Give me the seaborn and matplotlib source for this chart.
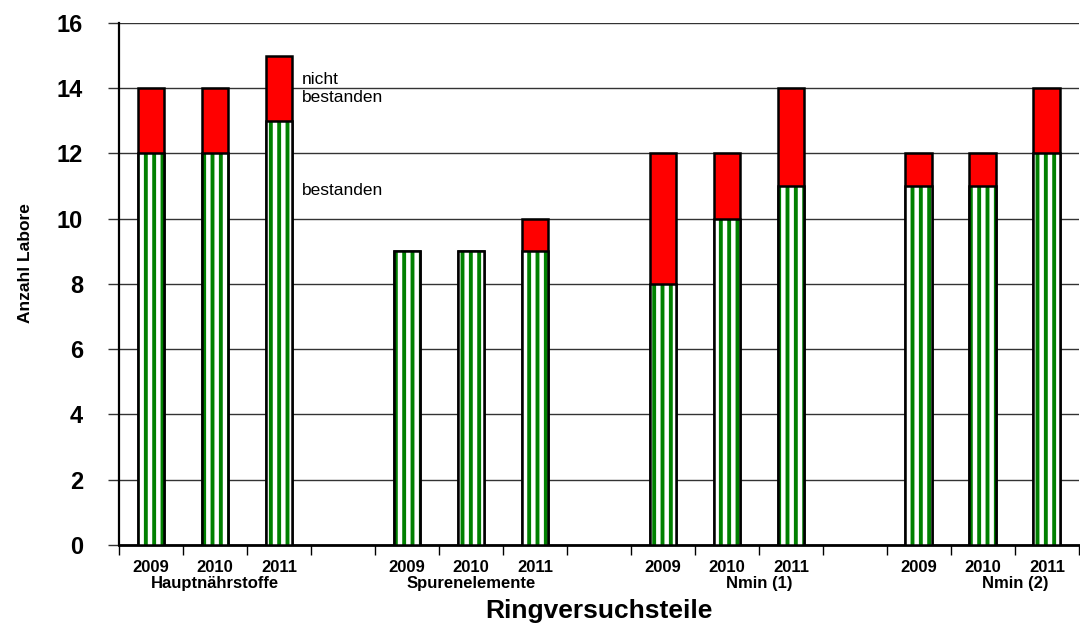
import matplotlib
matplotlib.use("Agg")
import matplotlib.pyplot as plt
import matplotlib.transforms as mtransforms
import pandas as pd
import seaborn as sns

# Ringversuch results: number of labs per test part and year
groups = ["Hauptnährstoffe", "Spurenelemente", "Nmin (1)", "Nmin (2)"]
years = ["2009", "2010", "2011"]
passed = [12, 12, 13, 9, 9, 9, 8, 10, 11, 11, 11, 12]
failed = [2, 2, 2, 0, 0, 1, 4, 2, 3, 1, 1, 2]
# where each group name sits, as a slot index on the category axis
group_label_slot = [1, 5, 9.5, 13.5]

sns.set_theme(style="white")
plt.rcParams["font.family"] = ["Liberation Sans", "DejaVu Sans"]
plt.rcParams["text.color"] = "black"
plt.rcParams["axes.labelcolor"] = "black"
plt.rcParams["xtick.color"] = "black"
plt.rcParams["ytick.color"] = "black"
plt.rcParams["hatch.linewidth"] = 2.8

RED = "#FF0000"
GREEN = "#008000"

# one slot per bar, with an empty slot between groups
slots, rows = [], []
i = 0
for gi, g in enumerate(groups):
    if gi > 0:
        slots.append(f"gap {gi}")
    for y in years:
        key = f"{g} {y}"
        slots.append(key)
        rows.append({"slot": key, "group": g, "year": y,
                     "passed": passed[i], "failed": failed[i],
                     "total": passed[i] + failed[i]})
        i += 1
df = pd.DataFrame(rows)

fig = plt.figure(figsize=(10.8, 6.28), dpi=100)
ax = fig.add_axes([0.1102, 0.1322, 0.8888, 0.8312])

bw = 0.42
# red: failed labs stacked on top (drawn as total height)
sns.barplot(data=df, x="slot", y="total", order=slots, color=RED,
            width=bw, edgecolor="black", linewidth=1.8, saturation=1,
            errorbar=None, ax=ax, zorder=3)
n_red = len(ax.patches)
# green striped: passed labs
sns.barplot(data=df, x="slot", y="passed", order=slots, color="white",
            width=bw, edgecolor=GREEN, linewidth=0, saturation=1,
            errorbar=None, ax=ax, zorder=4)
for p in ax.patches[n_red:]:
    p.set_hatch("||")
    p.set_edgecolor(GREEN)
    p.set_linewidth(0)
# black outline of the passed part
sns.barplot(data=df, x="slot", y="passed", order=slots, fill=False,
            width=bw, edgecolor="black", linewidth=1.8,
            errorbar=None, ax=ax, zorder=5)

n = len(slots)
ax.set_xlim(-0.5, n - 0.5)
ax.set_ylim(0, 16)

# horizontal grid lines
ax.set_yticks(range(0, 17, 2))
ax.yaxis.grid(True, color="#333333", linewidth=1.0)
ax.set_axisbelow(True)
for s in ["top", "right"]:
    ax.spines[s].set_visible(False)
ax.spines["left"].set_color("black")
ax.spines["left"].set_linewidth(1.6)
ax.spines["bottom"].set_color("black")
ax.spines["bottom"].set_linewidth(2.0)

ax.tick_params(axis="y", which="major", direction="out", length=8,
               width=1, color="#333333", pad=18, left=True,
               labelsize=17)
for t in ax.get_yticklabels():
    t.set_fontweight("bold")

# category boundaries as major ticks, year labels under bars as minor ticks
ax.set_xticks([k - 0.5 for k in range(n + 1)])
ax.set_xticklabels([])
ax.tick_params(axis="x", which="major", direction="out", length=7,
               width=1, color="black", bottom=True)
bar_pos = [slots.index(r["slot"]) for r in rows]
ax.set_xticks(bar_pos, minor=True)
ax.set_xticklabels([r["year"] for r in rows], minor=True,
                   fontsize=12, fontweight="bold")
ax.tick_params(axis="x", which="minor", length=0, pad=11)

trans = mtransforms.blended_transform_factory(ax.transData, ax.transAxes)
for g, pos in zip(groups, group_label_slot):
    ax.text(pos, -0.074, g, transform=trans, ha="center", va="center",
            fontsize=12, fontweight="bold")

ax.set_xlabel("Ringversuchsteile", fontsize=19, fontweight="bold")
ax.xaxis.set_label_coords(0.5, -0.103)
ax.set_ylabel("Anzahl Labore", fontsize=12.5, fontweight="bold")
ax.yaxis.set_label_coords(-0.09, 0.54)

# legend-style labels next to the third bar
ax.text(2.36, 14.0, "nicht\nbestanden", fontsize=12.5, ha="left",
        va="center", linespacing=1.25)
ax.text(2.36, 10.88, "bestanden", fontsize=12.5, ha="left", va="center")

fig.savefig("out.png", dpi=100)
